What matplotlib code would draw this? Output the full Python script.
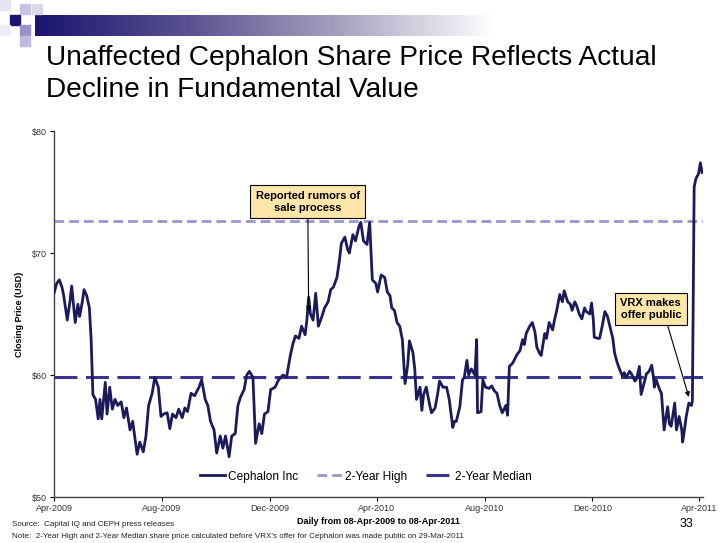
import numpy as np
import pandas as pd
import matplotlib
matplotlib.use("Agg")
import matplotlib.pyplot as plt
from matplotlib.patches import Rectangle

plt.rcParams['font.family'] = ['Liberation Sans', 'DejaVu Sans']

# ------------------------------
# Data
# ------------------------------
start_date = pd.Timestamp("2009-04-08")

# days since 08-Apr-2009
day_offsets = [
    0, 3, 6, 9, 11, 15, 18, 20, 24, 27, 29, 32, 34, 37, 40, 42, 44, 47, 50, 52,
    54, 58, 60, 63, 66, 69, 72, 76, 79, 82, 86, 89, 94, 97, 101, 104, 107, 111, 114, 118,
    121, 124, 128, 131, 134, 138, 141, 145, 148, 151, 155, 159, 164, 167, 171, 174, 177, 181, 184, 188,
    191, 194, 198, 201, 205, 208, 211, 215, 218, 221, 225, 228, 232, 235, 238, 242, 245, 250, 254, 259,
    263, 267, 270, 273, 277, 280, 284, 286, 288, 290, 293, 296, 299, 303, 306, 310, 313, 316, 320, 323,
    325, 329, 332, 334, 338, 341, 345, 347, 350, 354, 357, 360, 364, 366, 370, 374, 377, 380, 382, 385,
    388, 391, 394, 397, 400, 402, 406, 408, 410, 414, 416, 418, 421, 425, 427, 431, 434, 436, 440, 444,
    447, 451, 453, 455, 459, 462, 464, 467, 469, 472, 476, 478, 479, 483, 485, 488, 492, 495, 498, 501,
    504, 507, 511, 513, 515, 519, 523, 527, 530, 532, 534, 538, 541, 544, 546, 549, 551, 555, 557, 560,
    564, 566, 568, 572, 575, 577, 581, 584, 586, 589, 591, 594, 597, 600, 602, 606, 608, 610, 611, 615,
    617, 620, 623, 626, 628, 632, 634, 637, 640, 643, 645, 647, 651, 653, 657, 659, 662, 664, 668, 670,
    673, 676, 678, 679, 681, 685, 687, 690, 694, 696, 698, 702, 704, 707, 710, 711, 713, 715, 718, 721,
    722, 724, 726, 729, 731, 733,
]

cephalon_close = [
    66.7, 67.5, 67.8, 67.2, 66.5, 64.5, 66.0, 67.3, 64.3, 65.8, 64.8, 66.0, 67.0, 66.5, 65.5, 62.9, 58.4, 58.0, 56.4, 58.0,
    56.4, 59.4, 56.8, 59.0, 57.2, 58.0, 57.5, 57.8, 56.5, 57.3, 55.5, 56.2, 53.5, 54.5, 53.7, 55.0, 57.5, 58.5, 59.8, 59.0,
    56.6, 56.8, 56.9, 55.6, 56.8, 56.5, 57.2, 56.5, 57.3, 57.0, 58.5, 58.3, 59.0, 59.6, 58.0, 57.5, 56.2, 55.5, 53.6, 55.0,
    54.0, 55.0, 53.3, 55.0, 55.2, 57.5, 58.2, 58.8, 60.0, 60.3, 59.8, 54.4, 56.0, 55.2, 56.8, 57.0, 58.8, 59.0, 59.6, 60.0,
    59.8, 61.5, 62.5, 63.2, 63.0, 64.0, 63.3, 64.5, 66.4, 65.0, 64.5, 66.7, 64.0, 64.8, 65.5, 66.0, 67.0, 67.2, 68.0, 69.5,
    70.8, 71.3, 70.3, 70.0, 71.5, 71.0, 72.2, 72.5, 71.0, 70.7, 72.5, 67.8, 67.5, 66.8, 68.2, 68.0, 66.8, 66.5, 65.5, 65.3,
    64.3, 64.0, 62.9, 59.3, 60.8, 62.8, 61.8, 60.5, 58.0, 59.0, 57.1, 58.4, 59.0, 57.5, 56.9, 57.3, 58.5, 59.5, 59.0, 59.0,
    58.0, 55.7, 56.2, 56.2, 57.4, 59.6, 59.8, 61.2, 60.0, 60.5, 60.0, 62.9, 56.9, 57.0, 59.6, 59.0, 58.9, 59.1, 58.7, 58.5,
    57.5, 56.9, 57.5, 56.7, 60.7, 61.0, 61.6, 62.0, 62.9, 62.5, 63.4, 64.0, 64.3, 63.5, 62.3, 61.8, 61.6, 63.4, 63.0, 64.3,
    63.7, 64.5, 65.1, 66.6, 66.0, 66.9, 66.0, 65.8, 65.3, 66.0, 65.7, 65.0, 64.6, 65.5, 65.2, 65.0, 65.9, 64.5, 63.1, 63.0,
    63.0, 64.0, 65.2, 64.8, 64.2, 63.0, 61.8, 61.0, 60.4, 59.9, 60.2, 59.8, 60.3, 60.1, 59.5, 59.7, 60.7, 58.4, 59.5, 60.1,
    60.3, 60.8, 59.8, 59.0, 59.6, 58.8, 58.5, 55.5, 57.4, 56.0, 55.8, 57.7, 55.5, 56.6, 55.5, 54.5, 55.5, 56.6, 57.7, 57.5,
    57.9, 75.4, 76.1, 76.5, 77.4, 76.6,
]

two_year_high = 72.6
two_year_median = 59.8

tick_dates = ["2009-04-08", "2009-08-08", "2009-12-08", "2010-04-08",
              "2010-08-08", "2010-12-08", "2011-04-08"]
tick_labels = ["Apr-2009", "Aug-2009", "Dec-2009", "Apr-2010",
               "Aug-2010", "Dec-2010", "Apr-2011"]
y_ticks = [50, 60, 70, 80]

dates = start_date + pd.to_timedelta(day_offsets, unit="D")

# ------------------------------
# Figure
# ------------------------------
fig = plt.figure(figsize=(7.2, 5.43), dpi=100)

# header decoration: gradient bar and little squares
bar_ax = fig.add_axes([35 / 720, 1 - 36 / 543, 460 / 720, 21 / 543])
grad = np.linspace(0, 1, 256).reshape(1, -1)
cmap = matplotlib.colors.LinearSegmentedColormap.from_list(
    "hdr", ["#1a1470", "#5a5290", "#a8a2c0", "#ffffff"])
bar_ax.imshow(grad, aspect="auto", cmap=cmap)
bar_ax.axis("off")

squares = [
    (0, 0, "#e6e4f0"), (20, 4, "#c8c3e0"), (32, 4, "#dcd8ec"),
    (10, 15, "#1a1470"), (20, 25, "#9a90cc"), (20, 36, "#c0b8e0"),
    (0, 25, "#eeedf5"),
]
for sx, sy, sc in squares:
    fig.patches.append(Rectangle((sx / 720, 1 - (sy + 10) / 543), 10 / 720, 10 / 543,
                                 transform=fig.transFigure, color=sc, zorder=5))

fig.text(46 / 720, 1 - 74 / 543,
         "Unaffected Cephalon Share Price Reflects Actual\nDecline in Fundamental Value",
         fontsize=20.2, va="center", ha="left", linespacing=1.3)

ax = fig.add_axes([54 / 720, 1 - 497 / 543, 649 / 720, 366 / 543])

ax.plot(dates, cephalon_close, color="#1b1b5c", lw=2, label="Cephalon Inc", zorder=3)
ax.axhline(two_year_high, color="#9d94cc", lw=2, ls=(0, (3.5, 1.8)), label="2-Year High", zorder=2)
ax.axhline(two_year_median, color="#37338f", lw=2.2, ls=(0, (7.5, 2.8)), label="2-Year Median", zorder=2)

ax.set_xlim(pd.Timestamp("2009-04-08"), pd.Timestamp("2011-04-12"))
ax.set_ylim(50, 80)
ax.set_yticks(y_ticks)
ax.set_yticklabels([f"${v}" for v in y_ticks], fontsize=6.5, color="#333333")
ax.set_xticks(pd.to_datetime(tick_dates))
ax.set_xticklabels(tick_labels, fontsize=6.5, color="#333333")
ax.tick_params(axis="both", length=3, width=0.8, pad=2)

for side in ["top", "right"]:
    ax.spines[side].set_visible(False)
for side in ["left", "bottom"]:
    ax.spines[side].set_color("#444444")
    ax.spines[side].set_linewidth(1.0)

ax.set_ylabel("Closing Price (USD)", fontsize=6.5, fontweight="bold", labelpad=6)
ax.set_xlabel("Daily from 08-Apr-2009 to 08-Apr-2011", fontsize=6.5,
              fontweight="bold", labelpad=3)

ax.legend(loc="lower center", bbox_to_anchor=(0.48, 0.01), ncol=3, frameon=False,
          fontsize=8.6, handlelength=2.1, columnspacing=1.6, handletextpad=0.25)

# annotations
box_style = dict(boxstyle="square,pad=0.5", fc="#fde6a8", ec="black", lw=0.8)
ax.annotate("Reported rumors of\nsale process",
            xy=(pd.Timestamp("2010-01-21"), 65.2),
            xytext=(pd.Timestamp("2010-01-20"), 74.2),
            fontsize=8, fontweight="bold", ha="center", va="center",
            bbox=box_style,
            arrowprops=dict(arrowstyle="-|>", color="black", lw=0.8,
                            mutation_scale=7, shrinkA=0, shrinkB=0))
ax.annotate("VRX makes\noffer public",
            xy=(pd.Timestamp("2011-03-27"), 58.2),
            xytext=(pd.Timestamp("2011-02-12"), 65.4),
            fontsize=8, fontweight="bold", ha="center", va="center",
            bbox=box_style,
            arrowprops=dict(arrowstyle="-|>", color="black", lw=0.8,
                            mutation_scale=7, shrinkA=0, shrinkB=0,
                            relpos=(0.75, 0)))

fig.text(12 / 720, 1 - 525 / 543, "Source:  Capital IQ and CEPH press releases",
         fontsize=5.8, va="center", color="#222222")
fig.text(12 / 720, 1 - 536 / 543,
         "Note:  2-Year High and 2-Year Median share price calculated before VRX's offer "
         "for Cephalon was made public on 29-Mar-2011",
         fontsize=5.8, va="center", color="#222222")
fig.text(686 / 720, 1 - 524 / 543, "33", fontsize=9, va="center", ha="center")

fig.savefig("out.png", dpi=100)
